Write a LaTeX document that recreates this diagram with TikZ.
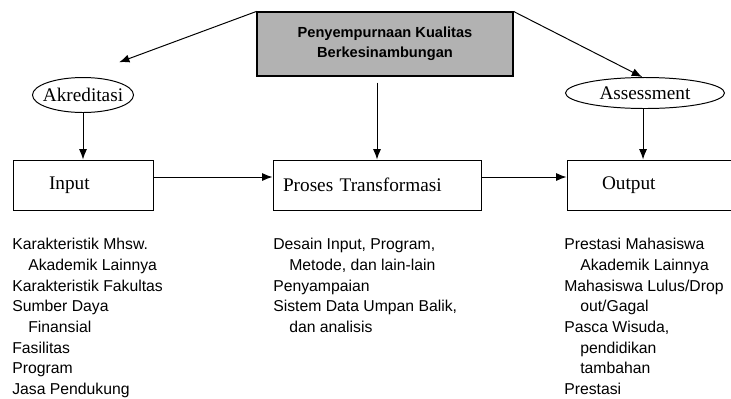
\documentclass[tikz,border=0pt]{standalone}
\usepackage{fontspec}
\setmainfont{Liberation Serif}
\setsansfont{Liberation Sans}
\usepackage{tikz}
\usetikzlibrary{shapes.geometric, arrows.meta, positioning}
\tikzstyle{box} = [rectangle, draw=black, line width=0.7pt, minimum height=1.25cm, align=left, font=\fontsize{13.7}{16}\selectfont]
\tikzstyle{oval} = [ellipse, draw=black, line width=0.7pt, inner sep=0pt, font=\fontsize{13.7}{16}\selectfont]
\tikzstyle{topbox} = [rectangle, draw=black, line width=0.8pt, fill=black!30, minimum width=6.4cm, minimum height=1.6cm, align=center, font=\sffamily\bfseries\fontsize{10.4}{14.2}\selectfont]
\tikzstyle{list} = [inner sep=0pt, align=left, font=\sffamily\fontsize{11.2}{14.7}\selectfont]
\tikzstyle{arrow} = [line width=0.7pt,->,>={Latex[length=2.6mm,width=2mm]}]
\newcommand{\ind}{\hspace*{0.4cm}}

\begin{document}
\begin{tikzpicture}[node distance=2cm]
            \useasboundingbox (0,0) rectangle (18.275,-9.95);
            \node(input)[box, text width=1.7cm, inner xsep=0.9cm] at (2.075,-4.625) {Input};
            \node(proses)[box, text width=4.7cm, inner xsep=0.25cm, right of=input, xshift=5.35cm]{Proses Transformasi};
            \node(output)[box, text width=2.575cm, inner xsep=0.875cm, right of=proses, xshift=4.9125cm]{Output};
            \node(mutu)[topbox, above of=proses, xshift=0.2cm, yshift=1.525cm]{Penyempurnaan Kualitas\\Berkesinambungan};
            \node(akr)[oval, minimum width=2.525cm, minimum height=0.875cm, above of=input, yshift=0.25cm]{\makebox[0pt]{Akreditasi}};
            \node(ass)[oval, minimum width=3.975cm, minimum height=0.775cm, above of=output, xshift=-0.2125cm, yshift=0.3cm]{\makebox[0pt]{Assessment}};
            \node(inlist)[list, below of=input, anchor=north west, xshift=-1.775cm, yshift=0.675cm]{Karakteristik Mhsw.\\\ind Akademik Lainnya\\Karakteristik Fakultas\\Sumber Daya\\\ind Finansial\\Fasilitas\\Program\\Jasa Pendukung};
            \node(proslist)[list, below of=proses, anchor=north west, xshift=-2.6cm, yshift=0.675cm]{Desain Input, Program,\\\ind Metode, dan lain-lain\\Penyampaian\\Sistem Data Umpan Balik,\\\ind dan analisis};
            \node(outlist)[list, below of=output, anchor=north west, xshift=-2.2375cm, yshift=0.675cm]{Prestasi Mahasiswa\\\ind Akademik Lainnya\\Mahasiswa Lulus/Drop\\\ind out/Gagal\\Pasca Wisuda,\\\ind pendidikan\\\ind tambahan\\Prestasi};
            \coordinate[above=0.5cm of akr.north east](akrtip);
            \draw[arrow](mutu.north west)--(akrtip);
            \draw[arrow](mutu.north east)--(ass.100);
            \draw[arrow](akr.south)--(input.north);
            \draw[arrow, shorten <=0.15cm](mutu.south -| proses.north)--(proses.north);
            \draw[arrow](ass.263)--(ass.263 |- output.north);
            \draw[arrow]([yshift=0.2cm]input.east)--([yshift=0.2cm]proses.west);
            \draw[arrow]([yshift=0.2cm]proses.east)--([yshift=0.2cm]output.west);
        \end{tikzpicture}
\end{document}
